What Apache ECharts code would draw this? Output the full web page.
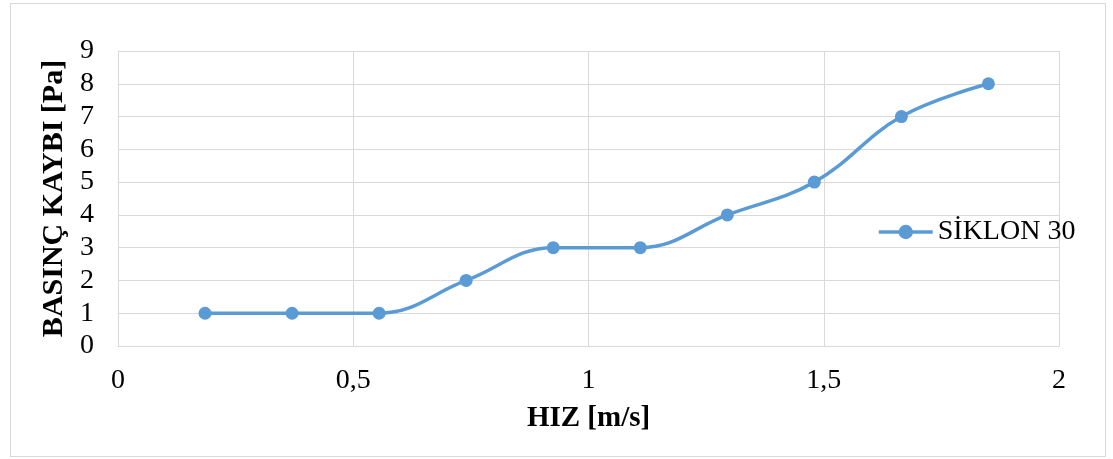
<!DOCTYPE html>
<html><head><meta charset="utf-8">
<script src="https://cdn.jsdelivr.net/npm/echarts@6/dist/echarts.min.js"></script>
<style>
html,body{margin:0;padding:0;background:#fff;}
#frame{position:absolute;left:10px;top:3px;width:1094px;height:452px;border:1px solid #d9d9d9;}
#main{position:absolute;left:0;top:0;width:1113px;height:459px;}
</style></head>
<body>
<div id="frame"></div>
<div id="main"></div>
<script>
const seriesName = 'SİKLON 30';
const xValues = [0.185, 0.37, 0.555, 0.74, 0.925, 1.11, 1.295, 1.48, 1.665, 1.85];
const yValues = [1, 1, 1, 2, 3, 3, 4, 5, 7, 8];
const xAxisTitle = 'HIZ [m/s]';
const yAxisTitle = 'BASINÇ KAYBI [Pa]';

const font = 'Liberation Serif, Times New Roman, serif';
const fs = 28;
const chart = echarts.init(document.getElementById('main'));
chart.setOption({
  animation: false,
  grid: {left: 118, top: 51, right: 54, bottom: 113},
  legend: {
    data: [seriesName], left: 872, top: 213, itemWidth: 54, itemHeight: 18, itemGap: 6,
    lineStyle: {width: 3.5},
    textStyle: {fontFamily: font, fontSize: fs, color: '#000'}
  },
  xAxis: {
    type: 'value', min: 0, max: 2, interval: 0.5,
    name: xAxisTitle, nameLocation: 'middle', nameGap: 58,
    nameTextStyle: {fontFamily: font, fontSize: 29, fontWeight: 'bold', color: '#000'},
    axisLine: {show: true, lineStyle: {color: '#d9d9d9', width: 1}},
    axisTick: {show: false},
    axisLabel: {fontFamily: font, fontSize: fs, color: '#000', margin: 21,
      formatter: v => String(v).replace('.', ',')},
    splitLine: {show: true, lineStyle: {color: '#d9d9d9', width: 1}}
  },
  yAxis: {
    type: 'value', min: 0, max: 9, interval: 1,
    name: yAxisTitle, nameLocation: 'middle', nameGap: 46, nameRotate: 90,
    nameTextStyle: {fontFamily: font, fontSize: 30, fontWeight: 'bold', color: '#000'},
    axisLine: {show: true, lineStyle: {color: '#d9d9d9', width: 1}},
    axisTick: {show: false},
    axisLabel: {fontFamily: font, fontSize: fs, color: '#000', margin: 24},
    splitLine: {show: true, lineStyle: {color: '#d9d9d9', width: 1}}
  },
  series: [{
    name: seriesName, type: 'line', smooth: 0.4,
    data: xValues.map((x, i) => [x, yValues[i]]),
    symbol: 'circle', symbolSize: 13,
    lineStyle: {color: '#5b9bd5', width: 3.5},
    itemStyle: {color: '#5b9bd5'}
  }]
});
</script>
</body></html>
